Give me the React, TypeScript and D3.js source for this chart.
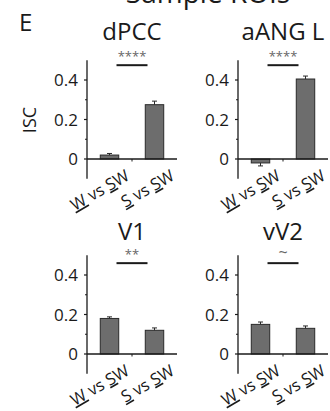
import * as d3 from "d3"

const ROIS = ["dPCC", "aANG L", "V1", "vV2"]
const W_MEANS = [0.02, -0.02, 0.18, 0.15]
const W_ERRS = [0.008, 0.015, 0.008, 0.012]
const S_MEANS = [0.275, 0.405, 0.12, 0.13]
const S_ERRS = [0.018, 0.015, 0.012, 0.012]
const SIG = ["****", "****", "**", "~"]
const Y_TICKS = [0, 0.2, 0.4]
const Y_MINOR = [0.1, 0.3]

const FONT = "'Open Sans', 'Noto Sans', sans-serif"
const INK = "#1a1a1a"

// panel origins: left edge of axis, pixel of y = 0, title baseline
const ORIGINS = [
  { x: 87, y: 159, title: 40 },
  { x: 238, y: 159, title: 40 },
  { x: 87, y: 354, title: 240 },
  { x: 238, y: 354, title: 240 },
]
const SIG_LEVEL = [0.475, 0.475, 0.46, 0.46]

function Label({ first }: { first: string }) {
  return (
    <>
      <tspan textDecoration="underline">{first}</tspan>
      <tspan> vs </tspan>
      <tspan textDecoration="underline">S</tspan>
      <tspan>W</tspan>
    </>
  )
}

function Panel({ i }: { i: number }) {
  const o = ORIGINS[i]
  const x = d3.scaleLinear().domain([0.5, 2.5]).range([o.x, o.x + 90])
  const y = d3
    .scaleLinear()
    .domain([-0.1, 0.5])
    .range([o.y + 0.1 * 197.5, o.y - 0.5 * 197.5])
  const bars = [
    { c: 1, m: W_MEANS[i], e: W_ERRS[i], first: "W" },
    { c: 2, m: S_MEANS[i], e: S_ERRS[i], first: "S" },
  ]
  const bw = x(1.205) - x(0.795)
  const mid = (x(1) + x(2)) / 2
  return (
    <g>
      <text x={mid} y={o.title} textAnchor="middle" fontSize={24} fill={INK}>
        {ROIS[i]}
      </text>
      <text
        x={mid}
        y={SIG[i] === "~" ? y(SIG_LEVEL[i]) - 5 : y(SIG_LEVEL[i]) - 4}
        textAnchor="middle"
        fontSize={SIG[i] === "~" ? 16 : 13}
        fill="#666"
      >
        {SIG[i]}
      </text>
      <line
        x1={x(1) + 7}
        x2={x(2) - 7}
        y1={y(SIG_LEVEL[i])}
        y2={y(SIG_LEVEL[i])}
        stroke={INK}
        strokeWidth={2}
      />
      {bars.map((b) => {
        const top = Math.min(y(b.m), y(0))
        const h = Math.abs(y(b.m) - y(0))
        const sign = b.m >= 0 ? 1 : -1
        const ey = y(b.m + sign * b.e)
        return (
          <g key={b.c}>
            <rect
              x={x(b.c) - bw / 2}
              y={top}
              width={bw}
              height={h}
              fill="#6d6d6d"
              stroke="#2a2a2a"
              strokeWidth={1}
            />
            <line
              x1={x(b.c)}
              x2={x(b.c)}
              y1={y(b.m)}
              y2={ey}
              stroke="#2a2a2a"
              strokeWidth={1}
            />
            <line
              x1={x(b.c) - 2.5}
              x2={x(b.c) + 2.5}
              y1={ey}
              y2={ey}
              stroke="#2a2a2a"
              strokeWidth={1}
            />
            <text
              transform={`translate(${x(b.c) + 21},${y(0) + 20}) rotate(-30)`}
              textAnchor="end"
              fontSize={16.5}
              fill={INK}
            >
              <Label first={b.first} />
            </text>
          </g>
        )
      })}
      {/* y axis */}
      <line
        x1={o.x}
        x2={o.x}
        y1={y(0.5)}
        y2={y(-0.1)}
        stroke={INK}
        strokeWidth={1.3}
      />
      {Y_TICKS.map((t) => (
        <g key={t}>
          <line
            x1={o.x - 3}
            x2={o.x}
            y1={y(t)}
            y2={y(t)}
            stroke={INK}
            strokeWidth={1.2}
          />
          <text
            x={o.x - 9}
            y={y(t) + 6}
            textAnchor="end"
            fontSize={17}
            fill={INK}
          >
            {t === 0 ? "0" : t.toFixed(1)}
          </text>
        </g>
      ))}
      {Y_MINOR.map((t) => (
        <line
          key={t}
          x1={o.x - 2}
          x2={o.x}
          y1={y(t)}
          y2={y(t)}
          stroke={INK}
          strokeWidth={1}
        />
      ))}
      {/* zero line */}
      <line
        x1={o.x}
        x2={x(2.5)}
        y1={y(0)}
        y2={y(0)}
        stroke={INK}
        strokeWidth={1.3}
      />
      <line
        x1={x(1.5)}
        x2={x(1.5)}
        y1={y(0)}
        y2={y(0) + 2.5}
        stroke={INK}
        strokeWidth={1}
      />
    </g>
  )
}

export default function App() {
  return (
    <svg
      width={330}
      height={411}
      style={{ position: "absolute", left: 0, top: 0, background: "#fff" }}
      fontFamily={FONT}
    >
      <text x={208} y={3} textAnchor="middle" fontSize={28} fill={INK}>
        Sample ROIs
      </text>
      <text x={19} y={31} fontSize={24} fill={INK}>
        E
      </text>
      <text
        transform="translate(36,120) rotate(-90)"
        textAnchor="middle"
        fontSize={18}
        fill={INK}
      >
        ISC
      </text>
      {ROIS.map((_, i) => (
        <Panel key={i} i={i} />
      ))}
    </svg>
  )
}
